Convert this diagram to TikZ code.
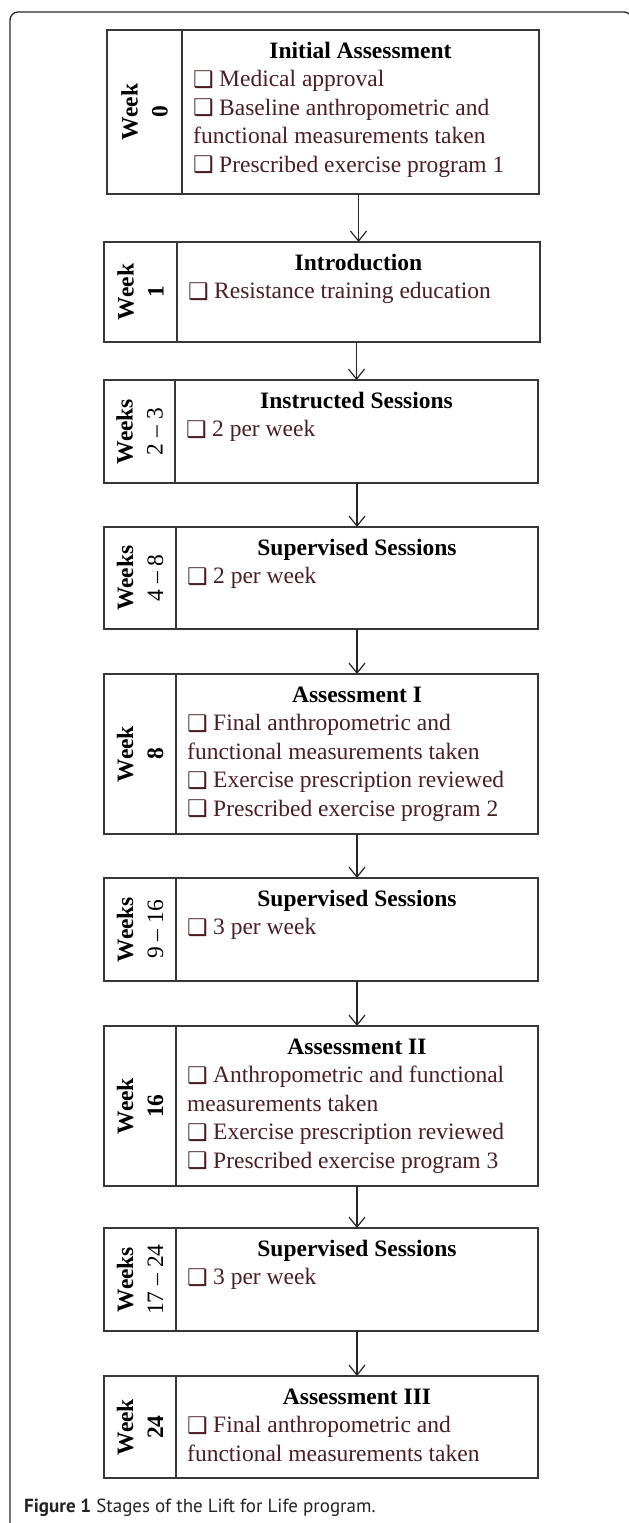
\documentclass[tikz,border=0pt]{standalone}
\usepackage{fontspec}
\setmainfont{Liberation Serif}
\newfontfamily\boxglyph{DejaVu Sans}
\newfontfamily\capfont{PT Sans}
\usetikzlibrary{arrows.meta}
\definecolor{itemcol}{RGB}{75,30,35}
\definecolor{boxcol}{RGB}{55,55,55}
\definecolor{capcol}{RGB}{35,35,35}
\newcommand\chk{\makebox[26pt][l]{\raisebox{-0.5pt}{\boxglyph\fontsize{23}{23}\selectfont ❑}}}
\newcommand\stg[7]{%
  \node[cell, minimum width={#3-#2}, minimum height={#6-#5}] (#1w) at (#2,#5) {};
  \node[cell, minimum width={#4-#3}, minimum height={#6-#5}] (#1s) at (#3,#5) {};
  \node[weeklbl] (#1l) at (#1w.center) {#7};
}
\newcommand\ttlline[3]{\node[ttl, yshift=-28pt] (#1) at (#2.north) {#3};}
\newcommand\itmline[4]{\node[itm, xshift=11pt, yshift={-28-28.5*#3}] (#1) at (#2.north west) {#4};}
\begin{document}
\begin{tikzpicture}[x=1pt,y=-1pt,
  cell/.style={draw=boxcol, line width=1.6pt, inner sep=0pt, outer sep=0pt, anchor=north west},
  weeklbl/.style={rotate=90, align=center, font=\fontsize{23.5}{30}\selectfont, inner sep=0pt},
  ttl/.style={anchor=base, font=\fontsize{23.5}{28.5}\selectfont\bfseries, inner sep=0pt},
  itm/.style={anchor=base west, font=\fontsize{23.5}{28.5}\selectfont, text=itemcol, inner sep=0pt},
  arr/.style={draw=black!85, line width=1.2pt, -{Straight Barb[length=10pt,width=16pt]}},
  frame/.style={draw=black!85, line width=1.3pt, rounded corners=8pt},
]
\useasboundingbox (0,0) rectangle (629,1523);
\clip (0,0) rectangle (629,1523);
\draw[frame] (632,40) -- (632,12) -- (10,12) -- (10,1531) -- (40,1531);

\stg{b1}{107}{182}{539}{30}{194}{\textbf{Week}\\\textbf{0}}
\stg{b2}{104}{177}{540}{242}{342}{\textbf{Week}\\\textbf{1}}
\stg{b3}{104}{175}{538}{380}{483}{\textbf{Weeks}\\2 – 3}
\stg{b4}{104}{176}{538}{527}{629}{\textbf{Weeks}\\4 – 8}
\stg{b5}{104}{176}{538}{674}{834}{\textbf{Week}\\\textbf{8}}
\stg{b6}{104}{176}{538}{878}{981}{\textbf{Weeks}\\9 – 16}
\stg{b7}{104}{176}{538}{1026}{1186}{\textbf{Week}\\\textbf{16}}
\stg{b8}{104}{176}{538}{1228}{1331}{\textbf{Weeks}\\17 – 24}
\stg{b9}{104}{176}{538}{1376}{1478}{\textbf{Week}\\\textbf{24}}

\ttlline{b1t}{b1s}{Initial Assessment}
\itmline{b1a}{b1s}{1}{\chk Medical approval}
\itmline{b1b}{b1s}{2}{\chk Baseline anthropometric and}
\itmline{b1c}{b1s}{3}{functional measurements taken}
\itmline{b1d}{b1s}{4}{\chk Prescribed exercise program 1}

\ttlline{b2t}{b2s}{Introduction}
\itmline{b2a}{b2s}{1}{\chk Resistance training education}

\ttlline{b3t}{b3s}{Instructed Sessions}
\itmline{b3a}{b3s}{1}{\chk 2 per week}

\ttlline{b4t}{b4s}{Supervised Sessions}
\itmline{b4a}{b4s}{1}{\chk 2 per week}

\ttlline{b5t}{b5s}{Assessment I}
\itmline{b5a}{b5s}{1}{\chk Final anthropometric and}
\itmline{b5b}{b5s}{2}{functional measurements taken}
\itmline{b5c}{b5s}{3}{\chk Exercise prescription reviewed}
\itmline{b5d}{b5s}{4}{\chk Prescribed exercise program 2}

\ttlline{b6t}{b6s}{Supervised Sessions}
\itmline{b6a}{b6s}{1}{\chk 3 per week}

\ttlline{b7t}{b7s}{Assessment II}
\itmline{b7a}{b7s}{1}{\chk Anthropometric and functional}
\itmline{b7b}{b7s}{2}{measurements taken}
\itmline{b7c}{b7s}{3}{\chk Exercise prescription reviewed}
\itmline{b7d}{b7s}{4}{\chk Prescribed exercise program 3}

\ttlline{b8t}{b8s}{Supervised Sessions}
\itmline{b8a}{b8s}{1}{\chk 3 per week}

\ttlline{b9t}{b9s}{Assessment III}
\itmline{b9a}{b9s}{1}{\chk Final anthropometric and}
\itmline{b9b}{b9s}{2}{functional measurements taken}

\draw[arr] (b1s.south -| b2s.north) -- (b2s.north);
\draw[arr] (b2s.south -| b3s.north) -- (b3s.north);
\draw[arr] (b3s.south -| b4s.north) -- (b4s.north);
\draw[arr] (b4s.south -| b5s.north) -- (b5s.north);
\draw[arr] (b5s.south -| b6s.north) -- (b6s.north);
\draw[arr] (b6s.south -| b7s.north) -- (b7s.north);
\draw[arr] (b7s.south -| b8s.north) -- (b8s.north);
\draw[arr] (b8s.south -| b9s.north) -- (b9s.north);

\node[anchor=base west, inner sep=0pt, font=\capfont\fontsize{19}{20}\selectfont, text=capcol] (cap) at (24,1512) {\textbf{Figure 1} Stages of the Lift for Life program.};
\end{tikzpicture}
\end{document}
